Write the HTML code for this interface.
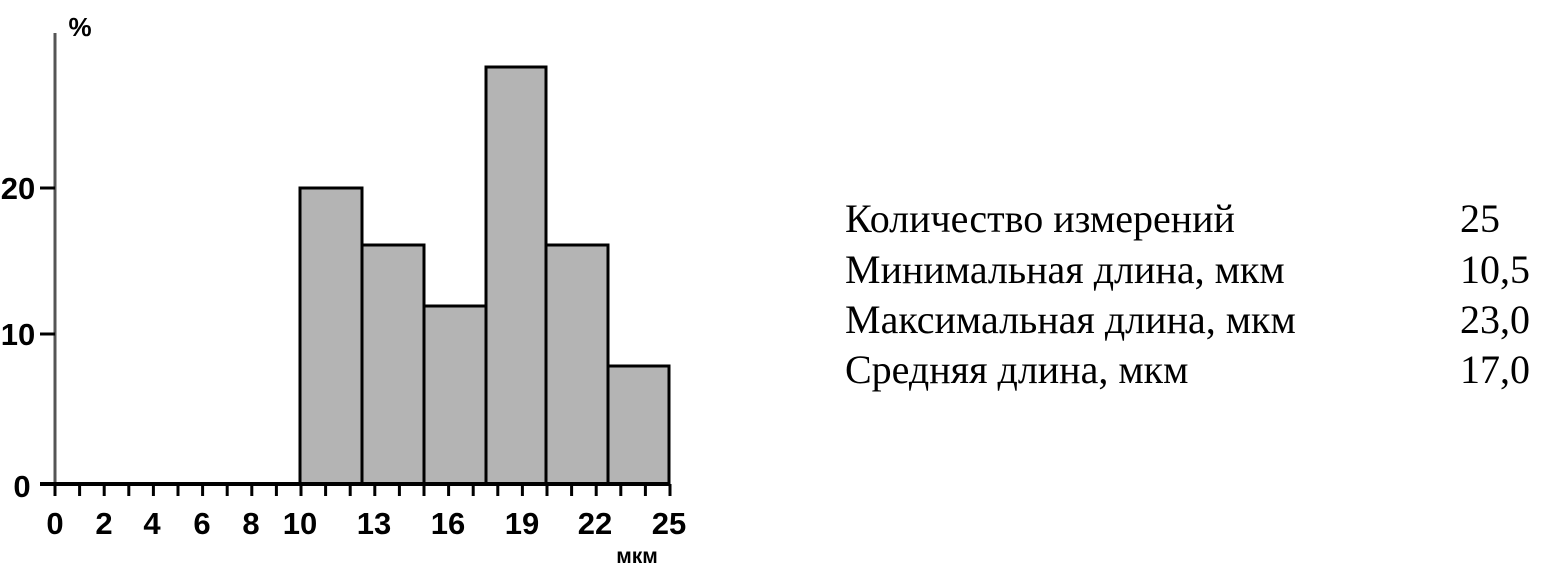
<!DOCTYPE html>
<html><head><meta charset="utf-8"><style>
body{margin:0;background:#fff;width:1554px;height:575px;overflow:hidden;position:relative}
.t{position:absolute;font-family:"Liberation Serif",serif;font-size:40px;color:#000;white-space:nowrap;line-height:1}
</style></head><body>
<svg width="700" height="575" style="position:absolute;left:0;top:0" font-family="Liberation Sans, sans-serif">
<line x1="55" y1="33" x2="55" y2="486" stroke="#555" stroke-width="3"/>
<g fill="#b4b4b4" stroke="#000" stroke-width="3">
<rect x="300" y="188" width="62" height="296"/>
<rect x="362" y="245" width="62" height="239"/>
<rect x="424" y="306" width="62" height="178"/>
<rect x="486" y="67" width="60" height="417"/>
<rect x="546" y="245" width="62" height="239"/>
<rect x="608" y="366" width="61" height="118"/>
</g>
<line x1="40" y1="484" x2="670" y2="484" stroke="#000" stroke-width="4"/>
<line x1="40" y1="188" x2="55" y2="188" stroke="#000" stroke-width="3"/>
<line x1="40" y1="334" x2="55" y2="334" stroke="#000" stroke-width="3"/>
<g stroke="#000" stroke-width="3">
<line x1="55" y1="484" x2="55" y2="496"/><line x1="79.6" y1="484" x2="79.6" y2="496"/><line x1="104.2" y1="484" x2="104.2" y2="496"/><line x1="128.8" y1="484" x2="128.8" y2="496"/><line x1="153.4" y1="484" x2="153.4" y2="496"/><line x1="178" y1="484" x2="178" y2="496"/><line x1="202.6" y1="484" x2="202.6" y2="496"/><line x1="227.2" y1="484" x2="227.2" y2="496"/><line x1="251.8" y1="484" x2="251.8" y2="496"/><line x1="276.4" y1="484" x2="276.4" y2="496"/><line x1="301" y1="484" x2="301" y2="496"/><line x1="325.6" y1="484" x2="325.6" y2="496"/><line x1="350.2" y1="484" x2="350.2" y2="496"/><line x1="374.8" y1="484" x2="374.8" y2="496"/><line x1="399.4" y1="484" x2="399.4" y2="496"/><line x1="424" y1="484" x2="424" y2="496"/><line x1="448.6" y1="484" x2="448.6" y2="496"/><line x1="473.2" y1="484" x2="473.2" y2="496"/><line x1="497.8" y1="484" x2="497.8" y2="496"/><line x1="522.4" y1="484" x2="522.4" y2="496"/><line x1="547" y1="484" x2="547" y2="496"/><line x1="571.6" y1="484" x2="571.6" y2="496"/><line x1="596.2" y1="484" x2="596.2" y2="496"/><line x1="620.8" y1="484" x2="620.8" y2="496"/><line x1="645.4" y1="484" x2="645.4" y2="496"/><line x1="670" y1="484" x2="670" y2="496"/>
</g>
<g font-size="31" fill="#000" text-anchor="middle" font-weight="bold">
<text x="18" y="199">20</text><text x="18" y="345">10</text><text x="22" y="497">0</text>
<text x="55" y="534">0</text><text x="104" y="534">2</text><text x="152" y="534">4</text><text x="202" y="534">6</text><text x="251" y="534">8</text><text x="300" y="534">10</text><text x="374" y="534">13</text><text x="448" y="534">16</text><text x="522" y="534">19</text><text x="595" y="534">22</text><text x="669" y="534">25</text>
</g>
<text x="637" y="563" font-size="21" font-weight="bold" text-anchor="middle">мкм</text>
<text x="80" y="36" font-size="26" font-weight="bold" text-anchor="middle">%</text>
</svg>
<div class="t" style="left:845px;top:199px">Количество измерений</div><div class="t" style="left:1460px;top:199px">25</div>
<div class="t" style="left:845px;top:250px">Минимальная длина, мкм</div><div class="t" style="left:1460px;top:250px">10,5</div>
<div class="t" style="left:845px;top:300px">Максимальная длина, мкм</div><div class="t" style="left:1460px;top:300px">23,0</div>
<div class="t" style="left:845px;top:350px">Средняя длина, мкм</div><div class="t" style="left:1460px;top:350px">17,0</div>
</body></html>
